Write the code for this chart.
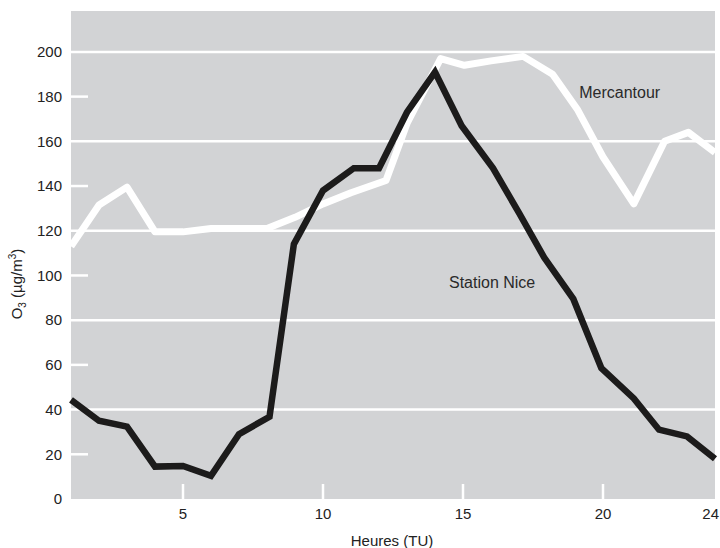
<!DOCTYPE html>
<html>
<head>
<meta charset="utf-8">
<script src="https://cdn.jsdelivr.net/npm/d3@7"></script>
<style>
  body { margin: 0; background: #fff; }
  svg { display: block; font-family: "Liberation Sans", Arial, sans-serif; }
</style>
</head>
<body>
<div id="chart"></div>
<script>
// Mercantour (white line)
const mercantourHours = [1, 2, 3, 4, 5, 6, 7, 8, 9, 10, 11, 12.25, 13, 14.2, 15.05, 16, 17.15, 18.2, 19.1, 20, 21.1, 22.2, 23.05, 24];
const mercantourValues = [113, 131.5, 139.5, 119.5, 119.5, 121, 121, 121, 126, 132, 137, 142.5, 168, 197, 194, 196, 198, 190, 174, 153, 132, 160, 164, 155];

// Station Nice (black line)
const niceHours = [1, 2, 3, 4, 5, 6, 7, 8.09, 8.96, 10, 11.1, 12, 13, 14, 14.95, 16.07, 17, 17.9, 18.94, 19.94, 21.1, 22, 23, 24];
const niceValues = [44.3, 35, 32.4, 14.5, 14.8, 10.4, 29, 36.8, 114, 138, 148, 148, 173, 191, 167, 148, 128, 108, 89.5, 58.6, 45, 31, 28, 18];

const yTicks = [0, 20, 40, 60, 80, 100, 120, 140, 160, 180, 200];
const yFullLines = [40, 80, 120, 160, 200];
const yShortTicks = [20, 60, 100, 140, 180];
const xTicks = [5, 10, 15, 20, 24];
const xTickMarks = [5, 10, 15, 20];

const width = 720;
const height = 548;
const margin = { top: 11, right: 5, bottom: 49, left: 71 };

const svg = d3
  .select("#chart")
  .append("svg")
  .attr("width", width)
  .attr("height", height);

const x = d3
  .scaleLinear()
  .domain([1, 24])
  .range([margin.left, width - margin.right]);

const y = d3
  .scaleLinear()
  .domain([0, 218.3])
  .range([height - margin.bottom, margin.top]);

// panel background
svg
  .append("rect")
  .attr("x", x(1))
  .attr("y", y(218.3))
  .attr("width", x(24) - x(1))
  .attr("height", y(0) - y(218.3))
  .attr("fill", "#d2d3d5");

// full gridlines
svg
  .append("g")
  .selectAll("line")
  .data(yFullLines)
  .join("line")
  .attr("x1", x(1))
  .attr("x2", x(24))
  .attr("y1", (d) => y(d))
  .attr("y2", (d) => y(d))
  .attr("stroke", "#fff")
  .attr("stroke-width", 2.5);

// short tick marks on the left
svg
  .append("g")
  .selectAll("line")
  .data(yShortTicks)
  .join("line")
  .attr("x1", x(1))
  .attr("x2", x(1) + 17)
  .attr("y1", (d) => y(d))
  .attr("y2", (d) => y(d))
  .attr("stroke", "#fff")
  .attr("stroke-width", 2.5);

// short tick marks at the bottom
svg
  .append("g")
  .selectAll("line")
  .data(xTickMarks)
  .join("line")
  .attr("x1", (d) => x(d))
  .attr("x2", (d) => x(d))
  .attr("y1", y(0))
  .attr("y2", y(0) - 15)
  .attr("stroke", "#fff")
  .attr("stroke-width", 2.5);

// y tick labels
svg
  .append("g")
  .selectAll("text")
  .data(yTicks)
  .join("text")
  .attr("x", x(1) - 9)
  .attr("y", (d) => y(d))
  .attr("dy", "0.35em")
  .attr("text-anchor", "end")
  .attr("fill", "#222")
  .style("font-size", "15px")
  .text((d) => d);

// x tick labels (last one pulled in so it stays on the page)
svg
  .append("g")
  .selectAll("text")
  .data(xTicks)
  .join("text")
  .attr("x", (d) => (d === 24 ? width - 1 : x(d)))
  .attr("y", y(0) + 20)
  .attr("text-anchor", (d) => (d === 24 ? "end" : "middle"))
  .attr("fill", "#222")
  .style("font-size", "15px")
  .text((d) => d);

// axis titles
svg
  .append("text")
  .attr("x", 392)
  .attr("y", 546)
  .attr("text-anchor", "middle")
  .attr("fill", "#222")
  .style("font-size", "15px")
  .text("Heures (TU)");

const yTitle = svg
  .append("text")
  .attr("transform", "translate(22,284) rotate(-90)")
  .attr("text-anchor", "middle")
  .attr("fill", "#222")
  .style("font-size", "15px");
yTitle.append("tspan").text("O");
yTitle.append("tspan").attr("dy", 4).style("font-size", "10px").text("3");
yTitle.append("tspan").attr("dy", -4).text(" (µg/m");
yTitle.append("tspan").attr("dy", -6).style("font-size", "10px").text("3");
yTitle.append("tspan").attr("dy", 6).text(")");

const line = d3
  .line()
  .x((d) => x(d[0]))
  .y((d) => y(d[1]));

// Mercantour
svg
  .append("path")
  .datum(d3.zip(mercantourHours, mercantourValues))
  .attr("d", line)
  .attr("fill", "none")
  .attr("stroke", "#fff")
  .attr("stroke-width", 7)
  .attr("stroke-linejoin", "round");

// Station Nice
svg
  .append("path")
  .datum(d3.zip(niceHours, niceValues))
  .attr("d", line)
  .attr("fill", "none")
  .attr("stroke", "#1c1b1b")
  .attr("stroke-width", 6.5)
  .attr("stroke-linejoin", "miter")
  .attr("stroke-miterlimit", 4);

// series labels
svg
  .append("text")
  .attr("x", x(19.15))
  .attr("y", y(182))
  .attr("dy", "0.35em")
  .attr("fill", "#2a2a2a")
  .style("font-size", "16px")
  .text("Mercantour");

svg
  .append("text")
  .attr("x", x(14.5))
  .attr("y", y(97))
  .attr("dy", "0.35em")
  .attr("fill", "#2a2a2a")
  .style("font-size", "16px")
  .text("Station Nice");
</script>
</body>
</html>
